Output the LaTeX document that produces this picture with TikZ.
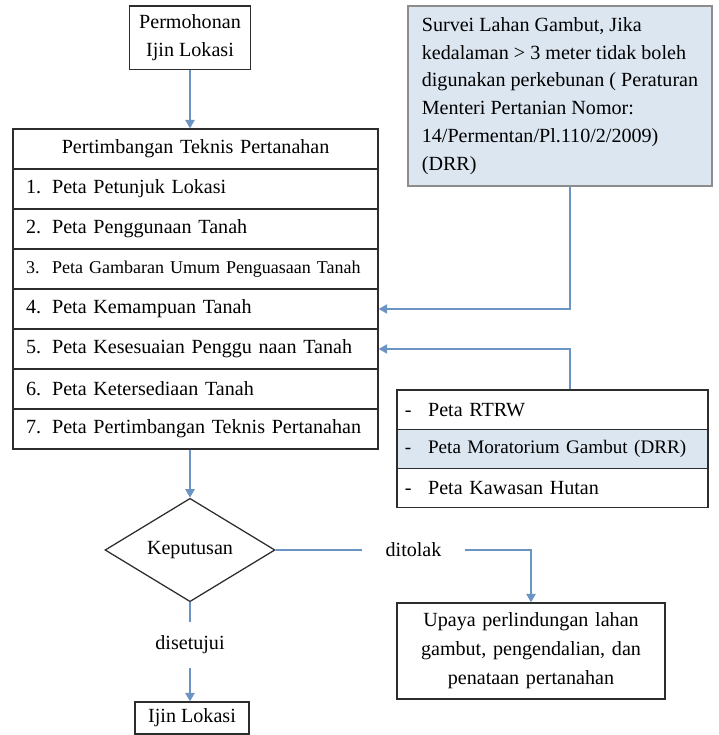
\documentclass[tikz,border=0pt]{standalone}
\usepackage{fontspec}
\setmainfont{Liberation Serif}
\usetikzlibrary{shapes.geometric, arrows.meta, positioning}
\definecolor{linkblue}{RGB}{108,148,194}
\definecolor{paleblue}{RGB}{220,230,241}
\definecolor{boxline}{RGB}{45,45,45}
\definecolor{noteline}{RGB}{140,140,140}
\newcommand{\mainsize}{\fontsize{14.3}{19.8}\selectfont}
\newcommand{\itemno}[1]{\makebox[0.65cm][l]{#1}}
\newcommand{\listmark}{\makebox[0.58cm][l]{-}}
\tikzstyle{box} = [
    rectangle, 
    draw=boxline, 
    line width=0.9pt,
    align=center, 
    font=\mainsize
]
\tikzstyle{row} = [
    rectangle, 
    draw=boxline, 
    line width=0.9pt,
    minimum height=1cm, 
    text width=8.475cm, 
    inner xsep=0.325cm,
    align=left, 
    font=\mainsize
]
\tikzstyle{listrow} = [
    rectangle, 
    draw=boxline, 
    line width=0.9pt,
    minimum height=0.98cm, 
    text width=7.375cm, 
    inner xsep=0.2cm,
    align=left, 
    font=\mainsize
]
\tikzstyle{note} = [
    rectangle, 
    draw=noteline, 
    line width=0.8pt,
    fill=paleblue,
    minimum width=7.6cm, 
    minimum height=4.5cm, 
    inner xsep=0.3cm,
    align=left, 
    font=\mainsize
]
\tikzstyle{decision} = [
    diamond, 
    draw=boxline, 
    line width=0.9pt,
    minimum width=4.25cm, 
    minimum height=2.1cm,
    inner sep=0pt,
    font=\mainsize
]
\tikzstyle{edgetext} = [fill=white, inner sep=0.1cm, font=\mainsize]
\tikzstyle{arrow} = [line width=1.3pt, draw=linkblue, -{Triangle[width=6.5pt,length=6pt]}]

\begin{document}
\begin{tikzpicture}[node distance=1cm]
\useasboundingbox (0,0) rectangle (17.975,-18.375);

% Nodes
\node (permohonan) [box, minimum width=3.03cm, minimum height=1.58cm] at (4.75,-0.94) {Permohonan\\Ijin Lokasi};
\node (head) [row, align=center, below of=permohonan, xshift=0.14cm, yshift=-1.785cm] {Pertimbangan Teknis Pertanahan};
\node (r1) [row, below of=head] {\itemno{1.}Peta Petunjuk Lokasi};
\node (r2) [row, below of=r1] {\itemno{2.}Peta Penggunaan Tanah};
\node (r3) [row, below of=r2, font=\fontsize{12.8}{15}\selectfont] {\itemno{3.}Peta Gambaran Umum Penguasaan Tanah};
\node (r4) [row, below of=r3] {\itemno{4.}Peta Kemampuan Tanah};
\node (r5) [row, below of=r4] {\itemno{5.}Peta Kesesuaian Penggu naan Tanah};
\node (r6) [row, below of=r5] {\itemno{6.}Peta Ketersediaan Tanah};
\node (r7) [row, below of=r6] {\itemno{7.}Peta Pertimbangan Teknis Pertanahan};
\node (survei) [note, right of=permohonan, xshift=8.25cm, yshift=-1.46cm] {Survei Lahan Gambut, Jika\\kedalaman > 3 meter tidak boleh\\digunakan perkebunan ( Peraturan\\Menteri Pertanian Nomor:\\14/Permentan/Pl.110/2/2009)\\(DRR)};
\node (rtrw) [listrow, right of=r6, xshift=7.92cm, yshift=-0.515cm] {\listmark Peta RTRW};
\node (mora) [listrow, fill=paleblue, font=\fontsize{13.6}{16}\selectfont, node distance=0.98cm, below of=rtrw] {\listmark Peta Moratorium Gambut (DRR)};
\node (kawasan) [listrow, node distance=0.98cm, below of=mora] {\listmark Peta Kawasan Hutan};
\node (keputusan) [decision, below of=r7, xshift=-0.14cm, yshift=-2.025cm] {Keputusan};
\node (upaya) [box, text width=6.4cm, inner xsep=0.15cm, minimum height=2.4cm, font=\fontsize{14.3}{20.6}\selectfont, right of=keputusan, xshift=7.525cm, yshift=-2.525cm] {Upaya perlindungan lahan\\gambut, pengendalian, dan\\penataan pertanahan};
\node (ijin) [box, minimum width=2.85cm, minimum height=0.8cm, below of=keputusan, xshift=0.05cm, yshift=-3.2cm] {Ijin Lokasi};

% Arrows
\draw [arrow] (permohonan) -- (permohonan |- head.north);
\draw [arrow] ([xshift=0.25cm]survei.south) |- (r4.east);
\draw [arrow] ([xshift=0.44cm]rtrw.north) |- (r5.east);
\draw [arrow] (r7.south -| keputusan) -- (keputusan);
\draw [arrow] (keputusan) -| node[edgetext, inner xsep=0.6cm, pos=0.27] {ditolak} (upaya);
\draw [arrow] (keputusan) -- node[edgetext, inner ysep=0.35cm, pos=0.43] {disetujui} (keputusan |- ijin.north);

\end{tikzpicture}
\end{document}
